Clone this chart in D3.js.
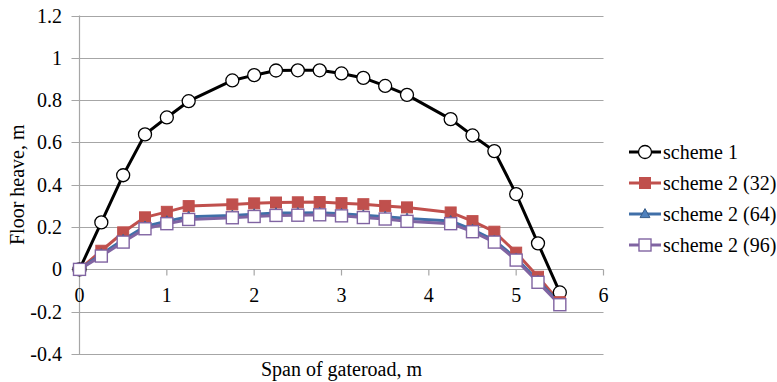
<!DOCTYPE html>
<html>
<head>
<meta charset="utf-8">
<script src="https://cdn.jsdelivr.net/npm/d3@7"></script>
<style>
  html, body { margin: 0; padding: 0; background: #fff; }
  svg { display: block; }
  svg text { font-family: "Liberation Serif", "Times New Roman", serif; font-size: 20px; fill: #000; }
</style>
</head>
<body>
<svg id="chart" width="777" height="382"></svg>
<script>
// Span positions across the gateroad (m)
const spans = [0, 0.25, 0.5, 0.75, 1, 1.25, 1.75, 2, 2.25, 2.5, 2.75, 3, 3.25, 3.5, 3.75, 4.25, 4.5, 4.75, 5, 5.25, 5.5];

// Floor heave (m) for each scheme
const scheme1   = [0, 0.222, 0.445, 0.638, 0.718, 0.795, 0.893, 0.918, 0.940, 0.941, 0.941, 0.926, 0.905, 0.867, 0.825, 0.710, 0.633, 0.559, 0.356, 0.123, -0.109];
const scheme232 = [0, 0.088, 0.175, 0.246, 0.272, 0.299, 0.307, 0.312, 0.316, 0.317, 0.318, 0.313, 0.308, 0.300, 0.293, 0.269, 0.228, 0.178, 0.079, -0.035, -0.155];
const scheme264 = [0, 0.072, 0.140, 0.203, 0.228, 0.249, 0.255, 0.261, 0.266, 0.267, 0.268, 0.263, 0.256, 0.249, 0.240, 0.229, 0.188, 0.137, 0.052, -0.054, -0.161];
const scheme296 = [0, 0.063, 0.129, 0.192, 0.216, 0.236, 0.244, 0.250, 0.255, 0.256, 0.258, 0.253, 0.245, 0.238, 0.227, 0.216, 0.178, 0.129, 0.044, -0.061, -0.167];

const seriesNames = ["scheme 1", "scheme 2 (32)", "scheme 2 (64)", "scheme 2 (96)"];
const xTicks = [0, 1, 2, 3, 4, 5, 6];
const yTicks = [-0.4, -0.2, 0, 0.2, 0.4, 0.6, 0.8, 1, 1.2];
const yTickLabels = ["-0.4", "-0.2", "0", "0.2", "0.4", "0.6", "0.8", "1", "1.2"];

const series = [
  { name: seriesNames[0], values: scheme1,   line: "#000000", marker: "circle",   fill: "#ffffff", stroke: "#000000" },
  { name: seriesNames[1], values: scheme232, line: "#c0504d", marker: "square",   fill: "#c0504d", stroke: "#c0504d" },
  { name: seriesNames[2], values: scheme264, line: "#3f6fa8", marker: "triangle", fill: "#4f81bd", stroke: "#385d8a" },
  { name: seriesNames[3], values: scheme296, line: "#8064a2", marker: "hollow",   fill: "#ffffff", stroke: "#8064a2" }
];

const FONT = "Liberation Serif";

const svg = d3.select("#chart");
const x = d3.scaleLinear().domain([0, 6]).range([79.5, 603.5]);
const y = d3.scaleLinear().domain([-0.4, 1.2]).range([354, 15.5]);

const gridColor = "#a6a6a6";

// Horizontal gridlines with short outward ticks on the left
svg.append("g").selectAll("line").data(yTicks).join("line")
  .attr("x1", x(0) - 8).attr("x2", x(6))
  .attr("y1", d => Math.round(y(d)) + 0.5).attr("y2", d => Math.round(y(d)) + 0.5)
  .attr("stroke", gridColor).attr("stroke-width", 1.2);

// Vertical axis line
svg.append("line")
  .attr("x1", x(0)).attr("x2", x(0))
  .attr("y1", y(1.2)).attr("y2", y(-0.4))
  .attr("stroke", gridColor).attr("stroke-width", 1.2);

// Y tick labels (baseline offset keeps digits centred on the gridline)
yTicks.forEach((d, i) => {
  svg.append("text")
    .attr("x", 62).attr("y", y(d) + 7)
    .attr("text-anchor", "end")
    .style("font-family", FONT)
    .text(yTickLabels[i]);
});

// X axis drawn along zero, ticks below it
const xAxisY = Math.round(y(0)) + 0.5;
svg.append("g").selectAll("line").data(xTicks).join("line")
  .attr("x1", d => x(d)).attr("x2", d => x(d))
  .attr("y1", xAxisY).attr("y2", xAxisY + 6)
  .attr("stroke", gridColor).attr("stroke-width", 1.2);

xTicks.forEach(d => {
  svg.append("text")
    .attr("x", x(d)).attr("y", 302)
    .attr("text-anchor", "middle")
    .style("font-family", FONT)
    .text(String(d));
});

// Axis titles
svg.append("text")
  .attr("x", (x(0) + x(6)) / 2).attr("y", 376)
  .attr("text-anchor", "middle")
  .style("font-family", FONT)
  .text("Span of gateroad, m");

svg.append("text")
  .attr("transform", `translate(24,${(y(1.2) + y(-0.4)) / 2}) rotate(-90)`)
  .attr("text-anchor", "middle")
  .style("font-family", FONT)
  .text("Floor heave, m");

// Marker shapes
function drawMarker(g, s, cx, cy) {
  if (s.marker === "circle") {
    g.append("circle").attr("cx", cx).attr("cy", cy).attr("r", 6.5)
      .attr("fill", s.fill).attr("stroke", s.stroke).attr("stroke-width", 1.3);
  } else if (s.marker === "square") {
    g.append("rect").attr("x", cx - 5.5).attr("y", cy - 5.5).attr("width", 11).attr("height", 11)
      .attr("fill", s.fill).attr("stroke", s.stroke).attr("stroke-width", 1);
  } else if (s.marker === "triangle") {
    const h = 9;
    g.append("path")
      .attr("d", `M${cx},${cy - h * 0.6}L${cx + h * 0.55},${cy + h * 0.4}L${cx - h * 0.55},${cy + h * 0.4}Z`)
      .attr("fill", s.fill).attr("stroke", s.stroke).attr("stroke-width", 1);
  } else {
    g.append("rect").attr("x", cx - 6).attr("y", cy - 6).attr("width", 12).attr("height", 12)
      .attr("fill", s.fill).attr("stroke", s.stroke).attr("stroke-width", 1.4);
  }
}

const line = d3.line().x((d, i) => x(spans[i])).y(d => y(d));

// Series lines, then markers
const plot = svg.append("g");
series.forEach(s => {
  plot.append("path").datum(s.values)
    .attr("d", line)
    .attr("fill", "none")
    .attr("stroke", s.line)
    .attr("stroke-width", 3)
    .attr("stroke-linejoin", "round");
});
series.forEach(s => {
  const g = plot.append("g");
  s.values.forEach((v, i) => drawMarker(g, s, x(spans[i]), y(v)));
});

// Legend
const legend = svg.append("g");
const legendY = [152, 183, 214, 245];
series.forEach((s, i) => {
  const ly = legendY[i];
  legend.append("line")
    .attr("x1", 629).attr("x2", 661).attr("y1", ly).attr("y2", ly)
    .attr("stroke", s.line).attr("stroke-width", 3);
  drawMarker(legend, s, 645, ly);
  svg.append("text")
    .attr("x", 663).attr("y", ly + 7)
    .style("font-family", FONT)
    .text(s.name);
});
</script>
</body>
</html>
